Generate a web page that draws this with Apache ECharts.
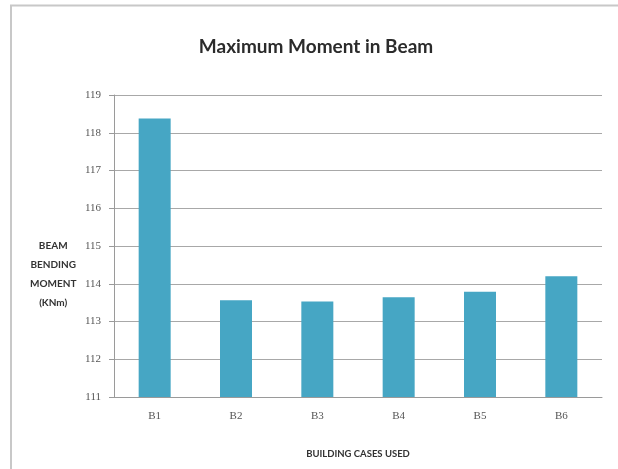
<!DOCTYPE html>
<html>
<head>
<meta charset="utf-8">
<script src="https://cdn.jsdelivr.net/npm/echarts@6/dist/echarts.min.js"></script>
<style>
  html, body { margin: 0; padding: 0; background: #fff; }
  #chart { width: 618px; height: 469px; }
</style>
</head>
<body>
<div id="chart"></div>
<script>
// Building cases and their maximum beam bending moment (kNm)
const cases = ['B1', 'B2', 'B3', 'B4', 'B5', 'B6'];
const maxMoment = [118.38, 113.56, 113.53, 113.64, 113.79, 114.2];
const yTicks = { min: 111, max: 119, step: 1 };

const chart = echarts.init(document.getElementById('chart'), null, { renderer: 'canvas' });

chart.setOption({
  backgroundColor: '#ffffff',
  animation: false,
  title: {
    text: 'Maximum Moment in Beam',
    left: 311,
    top: 32,
    textAlign: 'center',
    textStyle: { fontFamily: 'Lato', fontWeight: 'bold', fontSize: 19, color: '#2b2b2b' }
  },
  graphic: [
    // frame around the chart (top and left edges fall inside the canvas)
    {
      type: 'polyline',
      shape: { points: [[11, 469], [11, 5.5], [618, 5.5]] },
      style: { fill: 'none', stroke: '#c8c8c8', lineWidth: 2 },
      silent: true
    },
    {
      type: 'text',
      left: 30,
      top: 236,
      style: {
        text: 'BEAM\nBENDING\nMOMENT\n(KNm)',
        textAlign: 'center',
        fontFamily: 'Lato',
        fontWeight: 'bold',
        fontSize: 10,
        lineHeight: 19,
        fill: '#333'
      }
    }
  ],
  grid: { left: 114, top: 95, right: 16, bottom: 72, containLabel: false },
  xAxis: {
    type: 'category',
    data: cases,
    name: 'BUILDING CASES USED',
    nameLocation: 'middle',
    nameGap: 52,
    nameTextStyle: { fontFamily: 'Lato', fontWeight: 'bold', fontSize: 9.5, color: '#333' },
    axisLine: { lineStyle: { color: '#9a9a9a', width: 1 } },
    axisTick: { show: false },
    axisLabel: { fontFamily: 'Liberation Serif', fontSize: 11, color: '#555', margin: 14 }
  },
  yAxis: {
    type: 'value',
    min: yTicks.min,
    max: yTicks.max,
    interval: yTicks.step,
    axisLine: { show: true, lineStyle: { color: '#9a9a9a', width: 1 } },
    axisTick: { show: true, length: 5, lineStyle: { color: '#9a9a9a' } },
    axisLabel: { fontFamily: 'Liberation Serif', fontSize: 11, color: '#555', margin: 13 },
    splitLine: { lineStyle: { color: '#a8a8a8', width: 1 } }
  },
  series: [{
    type: 'bar',
    data: maxMoment,
    barWidth: 32,
    itemStyle: { color: '#46a6c4' }
  }]
});
</script>
</body>
</html>
